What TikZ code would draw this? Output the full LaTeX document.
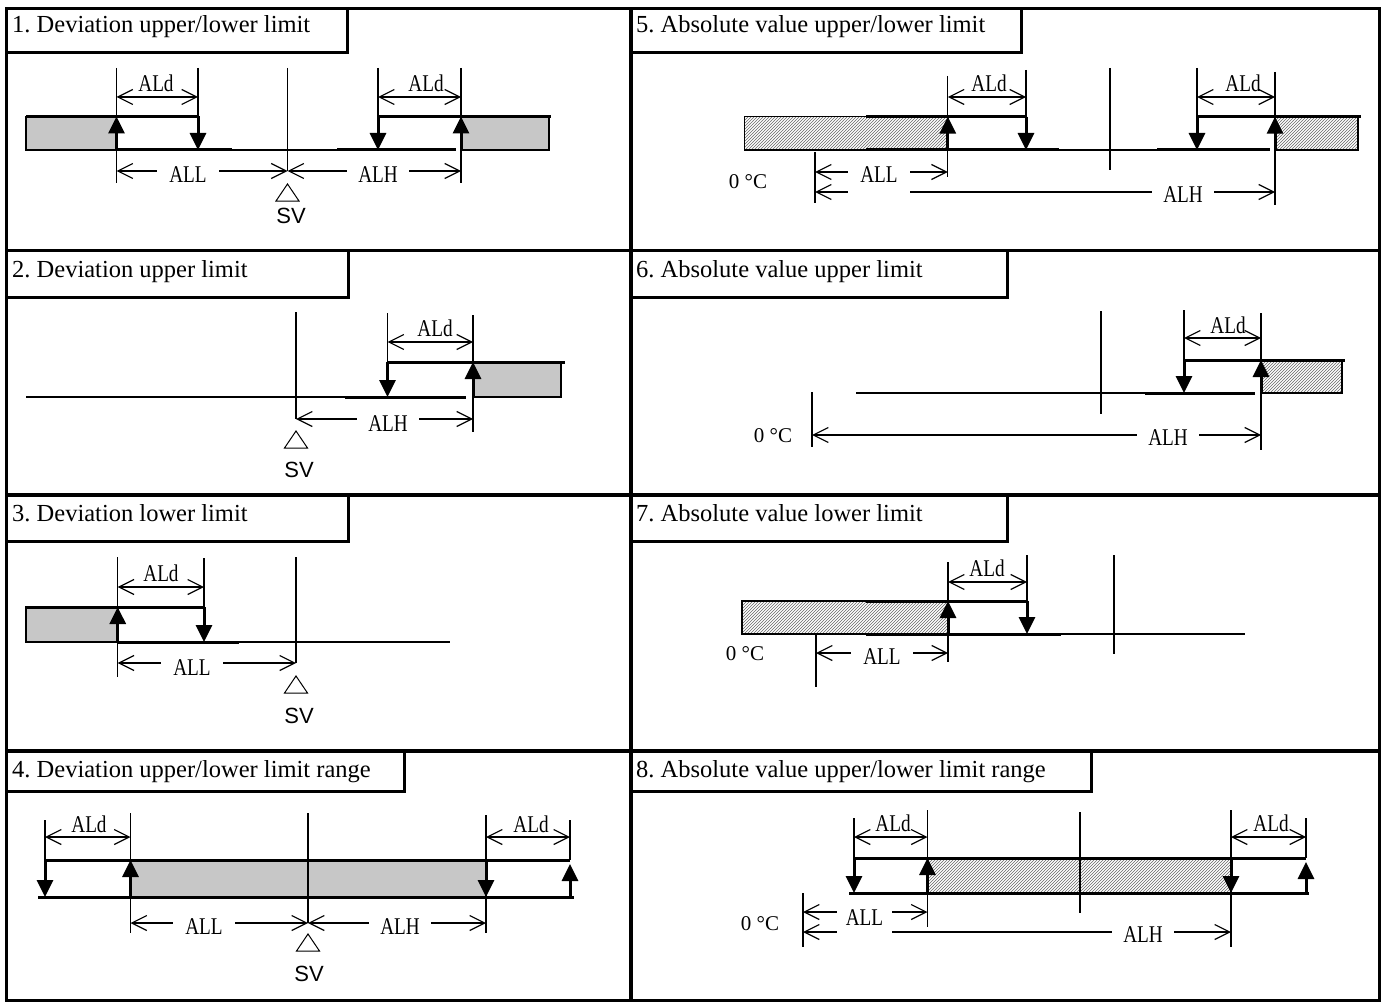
\documentclass[tikz,border=0pt]{standalone}
\usepackage{fontspec}
\setmainfont{Liberation Serif}
\newfontfamily\condfont[FakeStretch=0.8]{Liberation Serif}
\newfontfamily\svfont{Liberation Sans}
\usetikzlibrary{arrows.meta,patterns}
\frenchspacing
\begin{document}
\begin{tikzpicture}[x=1pt,y=-1pt,
 frame/.style={line width=3.4pt},
 boxl/.style={line width=3pt},
 thinl/.style={line width=1.1pt},
 thickl/.style={line width=3pt},
 extl/.style={line width=1.2pt},
 dimarr/.style={line width=1.2pt,{Straight Barb[length=15pt,width=15pt]}-{Straight Barb[length=15pt,width=15pt]}},
 actarr/.style={line width=3pt,-{Triangle[length=17pt,width=16pt]}},
 devhatch/.style={fill=black!22,draw,line width=1.6pt},
 abshatch/.style={pattern=north east lines,pattern color=black!60,draw,line width=1.6pt},
 ttl/.style={anchor=base west,inner sep=0pt,font=\fontsize{24.5}{28}\selectfont},
 aldlab/.style={inner sep=0pt,font=\condfont\fontsize{24}{26}\selectfont},
 dimlab/.style={aldlab,fill=white,minimum width=62pt,minimum height=20pt},
 zerolab/.style={inner sep=0pt,font=\fontsize{21}{24}\selectfont},
 svlab/.style={inner sep=0pt,font=\svfont\fontsize{22}{24}\selectfont},
 svtri/.style={line width=1pt}
]
\useasboundingbox (0,0) rectangle (1383,1003);

% ---------- grid ----------
\draw[frame] (6.5,8.5) rectangle (1379.5,1000.5);
\draw[frame] (631,8.5) -- (631,1000.5);
\draw[frame] (6.5,250.5) -- (1379.5,250.5);
\draw[frame] (6.5,495) -- (1379.5,495);
\draw[frame] (6.5,751) -- (1379.5,751);

% ---------- title boxes ----------
\draw[boxl] (6.5,52.5) -| (347,8.5);
\draw[boxl] (6.5,297) -| (348,250.5);
\draw[boxl] (6.5,541.5) -| (348,495);
\draw[boxl] (6.5,791.5) -| (404,751);
\draw[boxl] (631,52.5) -| (1021,8.5);
\draw[boxl] (631,297) -| (1007,250.5);
\draw[boxl] (631,541.5) -| (1007,495);
\draw[boxl] (631,791.5) -| (1091,751);
\node[ttl] (t1) at (12,33) {1. Deviation upper/lower limit};
\node[ttl] (t2) at (12,277) {2. Deviation upper limit};
\node[ttl] (t3) at (12,521) {3. Deviation lower limit};
\node[ttl] (t4) at (12,777) {4. Deviation upper/lower limit range};
\node[ttl] (t5) at (636,33) {5. Absolute value upper/lower limit};
\node[ttl] (t6) at (636,277) {6. Absolute value upper limit};
\node[ttl] (t7) at (636,521) {7. Absolute value lower limit};
\node[ttl] (t8) at (636,777) {8. Absolute value upper/lower limit range};

% ---------- panel 1 ----------
\draw[devhatch] (26,116.5) rectangle (116.5,150);
\draw[devhatch] (461,116.5) rectangle (549,150);
\draw[thickl] (26,116.5) -- (198,116.5);
\draw[thickl] (378,116.5) -- (551,116.5);
\draw[thickl] (116.5,150) -- (232,150);
\draw[thinl] (232,150) -- (337,150);
\draw[thickl] (337,150) -- (456,150);
\draw[extl] (116.5,68) -- (116.5,183);
\draw[extl] (198,68) -- (198,116.5);
\draw[extl] (287.5,68) -- (287.5,171);
\draw[extl] (378,68) -- (378,116.5);
\draw[extl] (461,68) -- (461,183);
\draw[actarr] (116.5,150) -- (116.5,116.5);
\draw[actarr] (198,116.5) -- (198,150);
\draw[actarr] (378,116.5) -- (378,150);
\draw[actarr] (461,150) -- (461,116.5);
\draw[dimarr] (116.5,97) -- (198,97);
\draw[dimarr] (378,97) -- (461,97);
\draw[dimarr] (116.5,171) -- (287.5,171);
\draw[dimarr] (287.5,171) -- (461,171);
\node[aldlab] (p1d1) at (156,83) {ALd};
\node[aldlab] (p1d2) at (426,83) {ALd};
\node[dimlab] (p1l) at (188,175) {ALL};
\node[dimlab] (p1h) at (378,175) {ALH};
\draw[svtri] (287.5,184) -- (276,201) -- (299,201) -- cycle;
\node[svlab] (p1sv) at (291,216) {SV};

% ---------- panel 2 ----------
\draw[devhatch] (473,362) rectangle (561,397);
\draw[thinl] (26,397) -- (345,397);
\draw[thickl] (345,397) -- (466,397);
\draw[thickl] (387.5,362) -- (565,362);
\draw[extl] (296,312) -- (296,419);
\draw[extl] (387.5,313) -- (387.5,362);
\draw[extl] (473,315) -- (473,432);
\draw[actarr] (387.5,362) -- (387.5,397);
\draw[actarr] (473,397) -- (473,362);
\draw[dimarr] (387.5,342) -- (473,342);
\draw[dimarr] (296,419) -- (473,419);
\node[aldlab] (p2d) at (435,328) {ALd};
\node[dimlab] (p2h) at (388,424) {ALH};
\draw[svtri] (296,431) -- (284.5,448) -- (307.5,448) -- cycle;
\node[svlab] (p2sv) at (299,470) {SV};

% ---------- panel 3 ----------
\draw[devhatch] (26,607) rectangle (117.7,642);
\draw[thickl] (26,607) -- (204,607);
\draw[thickl] (117.7,642) -- (239,642);
\draw[thinl] (239,642) -- (450,642);
\draw[extl] (117.7,557) -- (117.7,677);
\draw[extl] (204,558) -- (204,607);
\draw[extl] (296,557) -- (296,663);
\draw[actarr] (117.7,642) -- (117.7,607);
\draw[actarr] (204,607) -- (204,642);
\draw[dimarr] (117.7,587) -- (204,587);
\draw[dimarr] (117.7,663) -- (296,663);
\node[aldlab] (p3d) at (161,573) {ALd};
\node[dimlab] (p3l) at (192,668) {ALL};
\draw[svtri] (296,676) -- (284.5,693) -- (307.5,693) -- cycle;
\node[svlab] (p3sv) at (299,716) {SV};

% ---------- panel 4 ----------
\draw[devhatch] (130.5,860) rectangle (486,897);
\draw[thickl] (45,860) -- (570,860);
\draw[thickl] (38,897) -- (574,897);
\draw[extl] (45,820) -- (45,860);
\draw[extl] (130.5,813) -- (130.5,933);
\draw[extl] (308,813) -- (308,923);
\draw[extl] (486,815) -- (486,933);
\draw[extl] (570,820) -- (570,860);
\draw[actarr] (45,860) -- (45,897);
\draw[actarr] (130.5,897) -- (130.5,860);
\draw[actarr] (486,860) -- (486,897);
\draw[actarr] (570,897) -- (570,864);
\draw[dimarr] (45,837) -- (130.5,837);
\draw[dimarr] (486,837) -- (570,837);
\draw[dimarr] (130.5,923) -- (308,923);
\draw[dimarr] (308,923) -- (486,923);
\node[aldlab] (p4d1) at (89,824) {ALd};
\node[aldlab] (p4d2) at (531,824) {ALd};
\node[dimlab] (p4l) at (204,927) {ALL};
\node[dimlab] (p4h) at (400,927) {ALH};
\draw[svtri] (308,934) -- (296.5,951) -- (319.5,951) -- cycle;
\node[svlab] (p4sv) at (309,974) {SV};

% ---------- panel 5 ----------
\draw[abshatch] (744.6,116.7) rectangle (947.8,150);
\draw[abshatch] (1275,116.7) rectangle (1358,150);
\draw[thickl] (866,116.7) -- (1026,116.7);
\draw[thickl] (1197,116.7) -- (1361,116.7);
\draw[thickl] (866,150) -- (1058.5,150);
\draw[thinl] (1058.5,150) -- (1157,150);
\draw[thickl] (1157,150) -- (1270,150);
\draw[extl] (947.8,76) -- (947.8,177);
\draw[extl] (1026,70) -- (1026,116.7);
\draw[extl] (1110,68) -- (1110,170);
\draw[extl] (1197,68) -- (1197,116.7);
\draw[extl] (1275,72) -- (1275,205);
\draw[extl] (815,152) -- (815,203);
\draw[actarr] (947.8,150) -- (947.8,116.7);
\draw[actarr] (1026,116.7) -- (1026,150);
\draw[actarr] (1197,116.7) -- (1197,150);
\draw[actarr] (1275,150) -- (1275,116.7);
\draw[dimarr] (947.8,97) -- (1026,97);
\draw[dimarr] (1197,97) -- (1275,97);
\draw[dimarr] (815,192) -- (1275,192);
\draw[dimarr] (815,172) -- (947.8,172);
\node[aldlab] (p5d1) at (989,83) {ALd};
\node[aldlab] (p5d2) at (1243,83) {ALd};
\node[dimlab] (p5h) at (1183,195) {ALH};
\node[dimlab,minimum height=38pt] (p5l) at (879,175) {ALL};
\node[zerolab] (p5z) at (748,182) {0 °C};

% ---------- panel 6 ----------
\draw[abshatch] (1261,360) rectangle (1342,393);
\draw[thinl] (856,393) -- (1145,393);
\draw[thickl] (1145,393) -- (1255,393);
\draw[thickl] (1184,360) -- (1345,360);
\draw[extl] (1101,311) -- (1101,414);
\draw[extl] (1184,310) -- (1184,360);
\draw[extl] (1261,313) -- (1261,450);
\draw[extl] (812,392) -- (812,447);
\draw[actarr] (1184,360) -- (1184,393);
\draw[actarr] (1261,393) -- (1261,360);
\draw[dimarr] (1184,338) -- (1261,338);
\draw[dimarr] (812,435) -- (1261,435);
\node[aldlab] (p6d) at (1228,325) {ALd};
\node[dimlab] (p6h) at (1168,438) {ALH};
\node[zerolab] (p6z) at (773,436) {0 °C};

% ---------- panel 7 ----------
\draw[abshatch] (742,601) rectangle (948,634);
\draw[thickl] (866,601) -- (1027,601);
\draw[thickl] (866,634) -- (1061,634);
\draw[thinl] (1061,634) -- (1245,634);
\draw[extl] (948,562) -- (948,662);
\draw[extl] (1027,555) -- (1027,601);
\draw[extl] (1114,555) -- (1114,654);
\draw[extl] (816,634) -- (816,687);
\draw[actarr] (948,634) -- (948,601);
\draw[actarr] (1027,601) -- (1027,634);
\draw[dimarr] (948,582) -- (1027,582);
\draw[dimarr] (816,653) -- (948,653);
\node[aldlab] (p7d) at (987,568) {ALd};
\node[dimlab] (p7l) at (882,657) {ALL};
\node[zerolab] (p7z) at (745,654) {0 °C};

% ---------- panel 8 ----------
\draw[abshatch] (927.5,858) rectangle (1231,893);
\draw[thickl] (854,858) -- (1306,858);
\draw[thickl] (849,893) -- (1309,893);
\draw[extl] (854,818) -- (854,858);
\draw[extl] (927.5,810) -- (927.5,927);
\draw[extl] (1080,812) -- (1080,913);
\draw[extl] (1231,810) -- (1231,947);
\draw[extl] (1306,818) -- (1306,858);
\draw[extl] (803,893) -- (803,947);
\draw[actarr] (854,858) -- (854,893);
\draw[actarr] (927.5,893) -- (927.5,858);
\draw[actarr] (1231,858) -- (1231,893);
\draw[actarr] (1306,893) -- (1306,862);
\draw[dimarr] (854,837) -- (927.5,837);
\draw[dimarr] (1231,837) -- (1306,837);
\draw[dimarr] (803,932) -- (1231,932);
\draw[dimarr] (803,912) -- (927.5,912);
\node[aldlab] (p8d1) at (893,823) {ALd};
\node[aldlab] (p8d2) at (1271,823) {ALd};
\node[dimlab] (p8h) at (1143,935) {ALH};
\node[dimlab,minimum width=55pt,minimum height=33pt] (p8l) at (864.5,918) {ALL};
\node[zerolab] (p8z) at (760,924) {0 °C};
\end{tikzpicture}
\end{document}
